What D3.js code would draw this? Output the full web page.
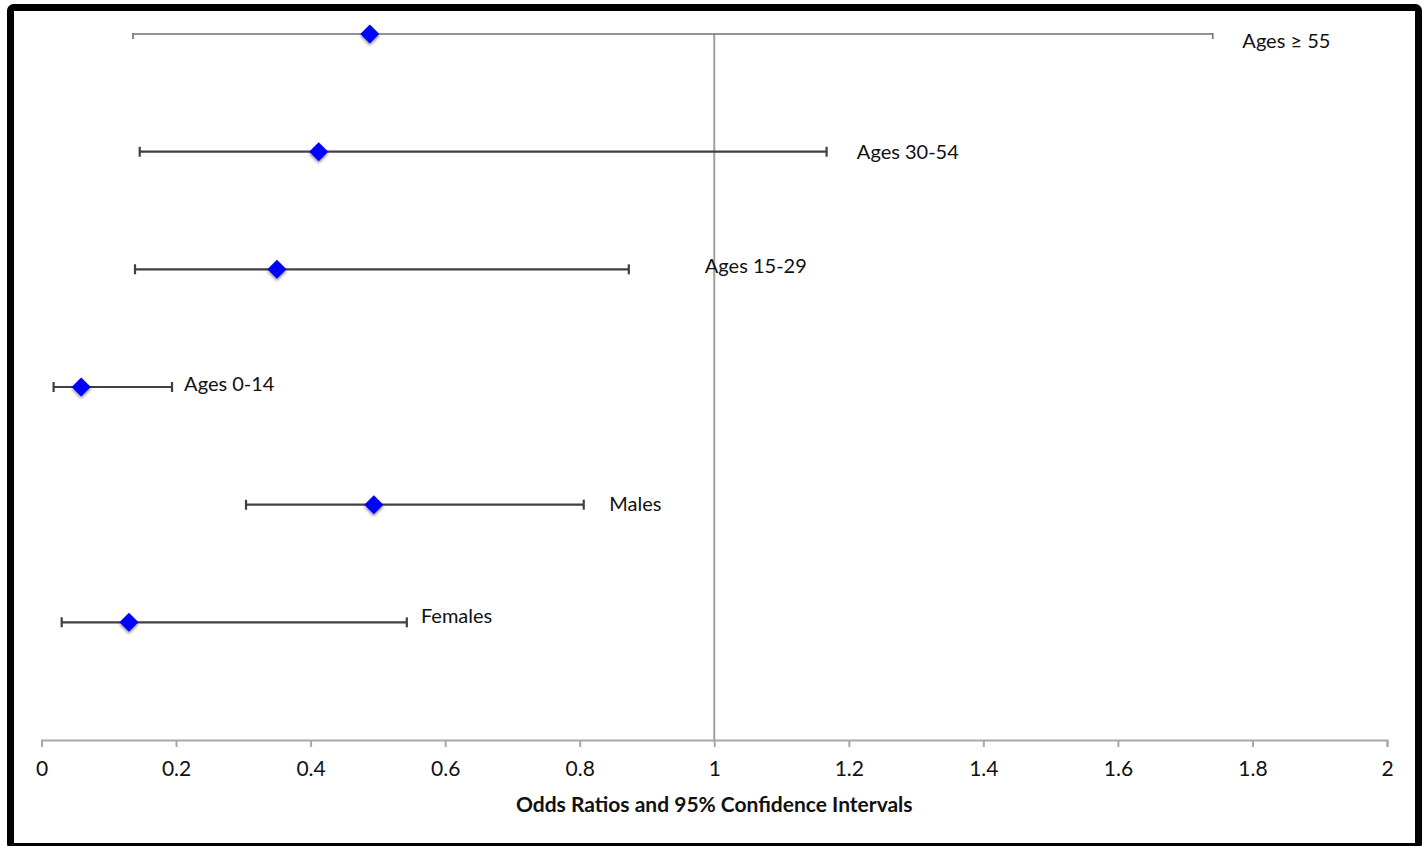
<!DOCTYPE html>
<html>
<head>
<meta charset="utf-8">
<script src="https://cdnjs.cloudflare.com/ajax/libs/d3/7.8.5/d3.min.js"></script>
<style>
    body { margin: 0; background: #fff; }
    #chart { width: 1428px; height: 846px; }
    text { font-family: Lato, "Open Sans", sans-serif; fill: #111; }
</style>
</head>
<body>
<div id="chart"></div>
<script>

// data, bottom row first
let groups   = ["Females", "Males", "Ages 0-14", "Ages 15-29", "Ages 30-54", "Ages \u2265 55"];
let oddsRatio = [0.130, 0.494, 0.059, 0.350, 0.412, 0.488];
let ciLow    = [0.030, 0.304, 0.018, 0.139, 0.146, 0.136];
let ciHigh   = [0.543, 0.806, 0.194, 0.873, 1.167, 1.741];
// where each data label was dragged to (in odds ratio units)
let labelAt  = [0.564, 0.844, 0.212, 0.986, 1.212, 1.785];
let labelDy  = [-6, -1, -3, -3, 0, 7];
let xTicks   = [0, 0.2, 0.4, 0.6, 0.8, 1, 1.2, 1.4, 1.6, 1.8, 2];
let xTitle   = "Odds Ratios and 95% Confidence Intervals";

let rows = groups.map((g, i) => ({
    group: g, row: i + 1, or: oddsRatio[i], lo: ciLow[i], hi: ciHigh[i],
    labelX: labelAt[i], labelDy: labelDy[i]
}));

let W = 1428, H = 846;
let margin = {top: 34, right: 41, bottom: 106, left: 41.5};
let width = W - margin.left - margin.right;
let height = H - margin.top - margin.bottom;

let svg = d3.select("#chart").append("svg")
    .attr("width", W)
    .attr("height", H);

// soft shadow under the markers
let defs = svg.append("defs");
let f = defs.append("filter").attr("id", "shadow")
    .attr("x", "-50%").attr("y", "-50%").attr("width", "200%").attr("height", "200%");
f.append("feDropShadow")
    .attr("dx", 0).attr("dy", 2).attr("stdDeviation", 1.6)
    .attr("flood-color", "#000").attr("flood-opacity", 0.45);

defs.append("clipPath").attr("id", "clip")
    .append("rect")
    .attr("x", -10).attr("y", -1)
    .attr("width", width + 20).attr("height", height + 2);

let g = svg.append("g")
    .attr("transform", `translate(${margin.left}, ${margin.top})`);

// scales
let x = d3.scaleLinear().domain([0, 2]).range([0, width]);
let y = d3.scaleLinear().domain([0, 6]).range([height, 0]);

// x axis
let xAxis = d3.axisBottom(x)
    .tickValues(xTicks)
    .tickSize(7)
    .tickPadding(14)
    .tickFormat(d3.format("~g"));

let xAxisGroup = g.append("g")
    .attr("class", "x-axis")
    .attr("transform", `translate(0, ${height})`)
    .call(xAxis);

xAxisGroup.select(".domain").attr("stroke", "#a8a8a8").attr("stroke-width", 2);
xAxisGroup.selectAll(".tick line").attr("stroke", "#a8a8a8").attr("stroke-width", 2);
xAxisGroup.selectAll(".tick text")
    .attr("font-size", 21)
    .attr("font-family", "Lato, 'Open Sans', sans-serif")
    .attr("fill", "#111");

// reference line at OR = 1
g.append("line")
    .attr("x1", x(1)).attr("x2", x(1))
    .attr("y1", 0).attr("y2", height)
    .attr("stroke", "#a0a0a0")
    .attr("stroke-width", 2);

// axis title
g.append("text")
    .attr("x", x(1))
    .attr("y", height + 72)
    .attr("text-anchor", "middle")
    .attr("font-size", 21)
    .attr("font-weight", "bold")
    .text(xTitle);

// error bars
let bars = g.append("g").attr("clip-path", "url(#clip)");

let bar = bars.selectAll(".ci")
    .data(rows)
    .enter().append("g")
    .attr("class", "ci")
    .attr("stroke", d => d.row === 6 ? "#707070" : "#404040")
    .attr("stroke-width", d => d.row === 6 ? 1.6 : 2.2);

bar.append("line")
    .attr("x1", d => x(d.lo)).attr("x2", d => x(d.hi))
    .attr("y1", d => y(d.row)).attr("y2", d => y(d.row));

bar.append("line")
    .attr("x1", d => x(d.lo)).attr("x2", d => x(d.lo))
    .attr("y1", d => y(d.row) - 5).attr("y2", d => y(d.row) + 5);

bar.append("line")
    .attr("x1", d => x(d.hi)).attr("x2", d => x(d.hi))
    .attr("y1", d => y(d.row) - 5).attr("y2", d => y(d.row) + 5);

// diamonds
g.selectAll(".point")
    .data(rows)
    .enter().append("path")
    .attr("class", "point")
    .attr("d", d3.symbol().type(d3.symbolDiamond2).size(230))
    .attr("transform", d => `translate(${x(d.or)}, ${y(d.row)})`)
    .attr("fill", "#0000ff")
    .attr("filter", "url(#shadow)");

// data labels
g.selectAll(".label")
    .data(rows)
    .enter().append("text")
    .attr("class", "label")
    .attr("x", d => x(d.labelX))
    .attr("y", d => y(d.row) + d.labelDy)
    .attr("dy", "0.35em")
    .attr("font-size", 20)
    .text(d => d.group);

// frame
svg.append("rect")
    .attr("x", 10.5).attr("y", 7.5)
    .attr("width", 1408).attr("height", 839)
    .attr("rx", 3)
    .attr("fill", "none")
    .attr("stroke", "#000")
    .attr("stroke-width", 7);

</script>
</body>
</html>
